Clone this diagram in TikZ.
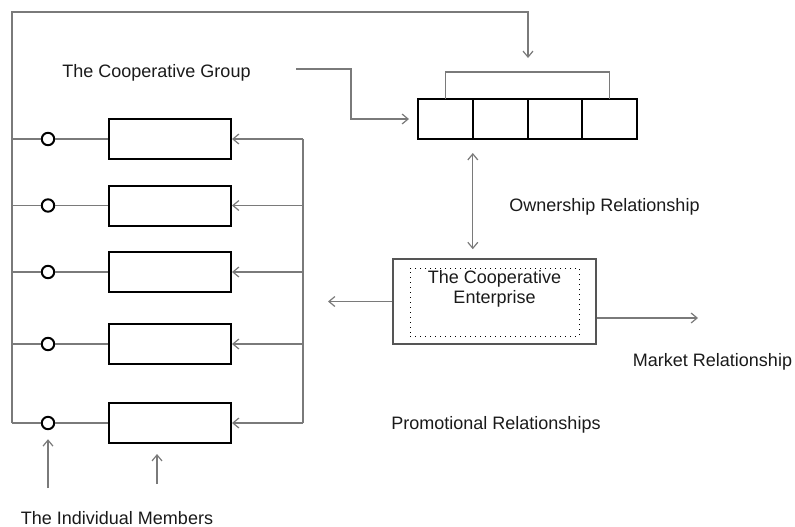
\documentclass[tikz,border=0pt]{standalone}
\usepackage{fontspec}
\setmainfont{Liberation Sans}
\usepackage{tikz}
\usetikzlibrary{arrows.meta,positioning,calc}
\definecolor{cInk}{HTML}{1A1A1A}
\definecolor{cWire}{HTML}{7A7A7A}
\definecolor{cEdge}{HTML}{555555}
\tikzset{
  wire/.style={line width=0.6pt,color=cWire},
  arr/.style={-{Straight Barb[length=3pt,width=5pt]},line width=0.6pt,color=cWire},
  darr/.style={{Straight Barb[length=3pt,width=5pt]}-{Straight Barb[length=3pt,width=5pt]},line width=0.6pt,color=cWire},
  mbox/.style={draw=black,fill=white,line width=1pt,minimum width=61pt,minimum height=20pt,inner sep=0pt},
  cell/.style={draw=black,line width=1pt,minimum width=27.4pt,minimum height=20pt,inner sep=0pt,outer sep=0pt},
  knob/.style={circle,draw=black,fill=white,line width=1pt,minimum size=6.2pt,inner sep=0pt},
  lbl/.style={font=\fontsize{9}{10}\selectfont,text=cInk,inner sep=1pt},
}

\begin{document}
\begin{tikzpicture}[x=0.5pt,y=-0.5pt]
  \useasboundingbox (0,0) rectangle (795,526);
  % the individual members
  \node[mbox] (m1) at (170,139) {}; \node[knob] (k1) at (48,139) {};
  \node[mbox] (m2) at (170,205.5) {}; \node[knob] (k2) at (48,205.5) {};
  \node[mbox] (m3) at (170,272) {}; \node[knob] (k3) at (48,272) {};
  \node[mbox] (m4) at (170,344) {}; \node[knob] (k4) at (48,344) {};
  \node[mbox] (m5) at (170,423) {}; \node[knob] (k5) at (48,423) {};
  \coordinate (l1) at (12,139); \coordinate (l2) at (12,205.5); \coordinate (l3) at (12,272);
  \coordinate (l4) at (12,344); \coordinate (l5) at (12,423); \coordinate (tl) at (12,12);
  \coordinate (r1) at (303,139); \coordinate (r2) at (303,205.5); \coordinate (r3) at (303,272);
  \coordinate (r4) at (303,344); \coordinate (r5) at (303,423);
  \coordinate (b1) at (48,488); \coordinate (b2) at (157,484);
  % the cooperative group
  \node[lbl] (grp) at (156.5,73) {The Cooperative Group};
  \node[cell] (g1) at (445.4,119) {};
  \node[cell,right=0pt of g1] (g2) {};
  \node[cell,right=0pt of g2] (g3) {};
  \node[cell,right=0pt of g3] (g4) {};
  \coordinate (gs) at (296,69); \coordinate (gtop) at (528,58);
  % the cooperative enterprise
  \node[draw=cEdge,line width=0.8pt,minimum width=101.5pt,minimum height=42.5pt] (ent) at (494.5,301.5) {};
  \node[draw=black,dotted,line width=0.5pt,minimum width=84.5pt,minimum height=34pt] (entin) at (494.5,302) {};
  \node[lbl,anchor=north,align=center] (enttxt) at ([yshift=-0.5pt]entin.north) {The Cooperative\\Enterprise};
  \coordinate (pl) at (328,301.5); \coordinate (mk) at (698,318);
  % labels
  \node[lbl] (own) at (604.5,207) {Ownership Relationship};
  \node[lbl] (mkt) at (712.5,362) {Market Relationship};
  \node[lbl] (promo) at (496,425) {Promotional Relationships};
  \node[lbl] (indiv) at (117,518) {The Individual Members};

  \draw[arr] (l5) -- (tl) -| (gtop);
  \draw[wire] (l1) -- (k1) -- (m1); \draw[wire] (l2) -- (k2) -- (m2); \draw[wire] (l3) -- (k3) -- (m3);
  \draw[wire] (l4) -- (k4) -- (m4); \draw[wire] (l5) -- (k5) -- (m5);
  \draw[wire] (r1) -- (r5);
  \draw[arr] (r1) -- (m1); \draw[arr] (r2) -- (m2); \draw[arr] (r3) -- (m3);
  \draw[arr] (r4) -- (m4); \draw[arr] (r5) -- (m5);
  \draw[arr,shorten >=4.5pt] (b1) -- (k5);
  \draw[arr,shorten >=5pt] (b2) -- (b2 |- m5.south);
  \draw[arr,shorten >=4.5pt] (gs) -- ++(55,0) |- (g1.west);
  \draw[wire] (g1.north) -- ++(0,-27) -| (g4.north);
  \draw[darr,shorten <=7pt,shorten >=4.5pt] (g1.south east) -- (g1.south east |- ent.north);
  \draw[arr] (ent.west) -- (pl);
  \draw[arr] ($(ent.east)+(0,16.5)$) -- (mk);
\end{tikzpicture}
\end{document}
